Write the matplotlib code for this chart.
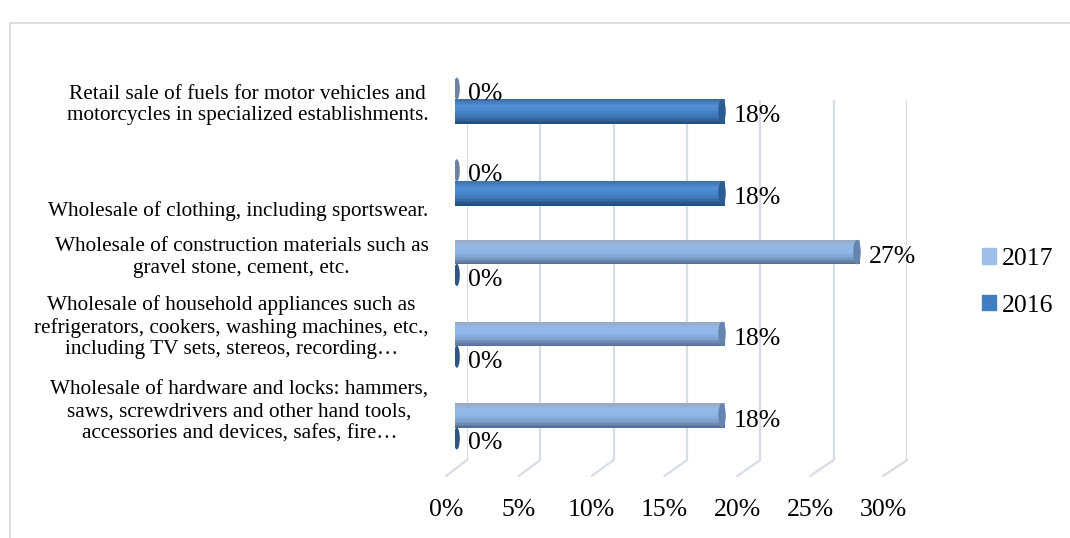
import numpy as np
import matplotlib
matplotlib.use("Agg")
import matplotlib.pyplot as plt
from matplotlib.patches import Rectangle, Ellipse, ConnectionPatch
from matplotlib.transforms import ScaledTranslation
from matplotlib.colors import LinearSegmentedColormap

plt.rcParams['font.family'] = ['Liberation Serif', 'DejaVu Serif']

# Datos (de arriba hacia abajo)
categorias = [
    "Retail sale of fuels for motor vehicles and\nmotorcycles in specialized establishments.",
    "Wholesale of clothing, including sportswear.",
    "Wholesale of construction materials such as\ngravel stone, cement, etc.",
    "Wholesale of household appliances such as\nrefrigerators, cookers, washing machines, etc.,\nincluding TV sets, stereos, recording\u2026",
    "Wholesale of hardware and locks: hammers,\nsaws, screwdrivers and other hand tools,\naccessories and devices, safes, fire\u2026",
]
serie_2017 = [0, 0, 27, 18, 18]
serie_2016 = [18, 18, 0, 0, 0]
ticks_x = [0, 5, 10, 15, 20, 25, 30]

W, H = 1070, 538
fig = plt.figure(figsize=(W / 100, H / 100), dpi=100)

def px(x0, y0, x1, y1):
    # caja en pixeles -> coordenadas de figura
    return [x0 / W, 1 - y1 / H, (x1 - x0) / W, (y1 - y0) / H]

# marco del grafico
fig.patches.append(Rectangle((10 / W, -0.1), 1.5, (H - 23) / H + 0.1,
                             transform=fig.transFigure, fill=False,
                             edgecolor='#d9d9d9', linewidth=1.2))

# pared del fondo (rejilla) y piso (etiquetas)
ax_wall = fig.add_axes(px(467, 100, 907, 460))
ax_wall.set_xlim(0, 30)
ax_wall.axis('off')
ax_floor = fig.add_axes(px(446, 476, 883, 477))
ax_floor.set_xlim(0, 30)
for s in ax_floor.spines.values():
    s.set_visible(False)
ax_floor.set_yticks([])
ax_floor.set_xticks(ticks_x, [f"{t}%" for t in ticks_x])
ax_floor.tick_params(axis='x', length=0, pad=16, labelsize=18.5)
ax_floor.patch.set_alpha(0)

grid_c = '#d8dce6'
for t in ticks_x:
    ax_wall.plot([t, t], [0, 1], transform=ax_wall.get_xaxis_transform(),
                 color=grid_c, linewidth=1.6, solid_capstyle='butt')
    con = ConnectionPatch(xyA=(t, 0), coordsA=ax_wall.get_xaxis_transform(),
                          xyB=(t, 1), coordsB=ax_floor.get_xaxis_transform(),
                          color=grid_c, linewidth=1.6)
    fig.add_artist(con)

# barras
ax = fig.add_axes(px(455, 75, 905, 475))
ax.patch.set_alpha(0)
y = np.arange(len(categorias))
h = 0.30
off = 0.14
n_fr = 16  # franjas para el degradado cilindrico

estilos = {
    '2017': dict(grad=['#9aaac4', '#93baea', '#8db5e6', '#7f9fcb', '#566f94'],
                 cap='#6585b0', stub='#6d82a0', leg='#9dbee6'),
    '2016': dict(grad=['#3d6fa8', '#5190d4', '#4886cb', '#3a72b2', '#244e7c'],
                 cap='#2b5d92', stub='#2e5680', leg='#3f7ec1'),
}

def dibujar(valores, ys, est):
    cmap = LinearSegmentedColormap.from_list('c', est['grad'])
    valores = np.asarray(valores)
    # franjas horizontales de arriba (visual) hacia abajo
    for k in range(n_fr):
        yk = ys - h / 2 + (k + 0.5) * h / n_fr
        ax.barh(yk, valores, height=h / n_fr * 1.05, color=cmap(k / (n_fr - 1)),
                linewidth=0, zorder=2)
    for v, yy in zip(valores, ys):
        if v > 0:
            ax.add_patch(Ellipse((v - 0.2, yy), 0.5, h, facecolor=est['cap'],
                                 edgecolor='none', zorder=3))
            dx = 9
        else:
            ax.add_patch(Ellipse((0.12, yy), 0.4, h * 0.9, facecolor=est['stub'],
                                 edgecolor='none', zorder=3))
            dx = 13
        ax.text(v, yy, f"{v}%", fontsize=18.5, va='center', ha='left',
                transform=ax.transData + ScaledTranslation(dx / 100, -5 / 100, fig.dpi_scale_trans),
                zorder=4)

dibujar(serie_2017, y - off, estilos['2017'])
dibujar(serie_2016, y + off, estilos['2016'])
ax.set_xlim(0, 30)
ax.set_ylim(4.587, -0.306)

for s in ax.spines.values():
    s.set_visible(False)
ax.set_xticks([])
ax.set_yticks(y, categorias)
ax.tick_params(axis='y', length=0, pad=19, labelsize=15.3)
desplaz = [-1, -27, 10, 22, 19]  # ajuste vertical de etiquetas (px)
for lab, d in zip(ax.get_yticklabels(), desplaz):
    lab.set_multialignment('center')
    lab.set_transform(lab.get_transform() + ScaledTranslation(0, d / 100, fig.dpi_scale_trans))

# leyenda
handles = [Rectangle((0, 0), 1, 1, color=estilos['2017']['leg']),
           Rectangle((0, 0), 1, 1, color=estilos['2016']['leg'])]
fig.legend(handles, ['2017', '2016'], loc='upper left',
           bbox_to_anchor=(972 / W, 1 - 238 / H), frameon=False,
           fontsize=18.5, handlelength=0.55, handleheight=0.55,
           handletextpad=0.2, labelspacing=0.95, borderaxespad=0)

fig.savefig('out.png', dpi=100)
